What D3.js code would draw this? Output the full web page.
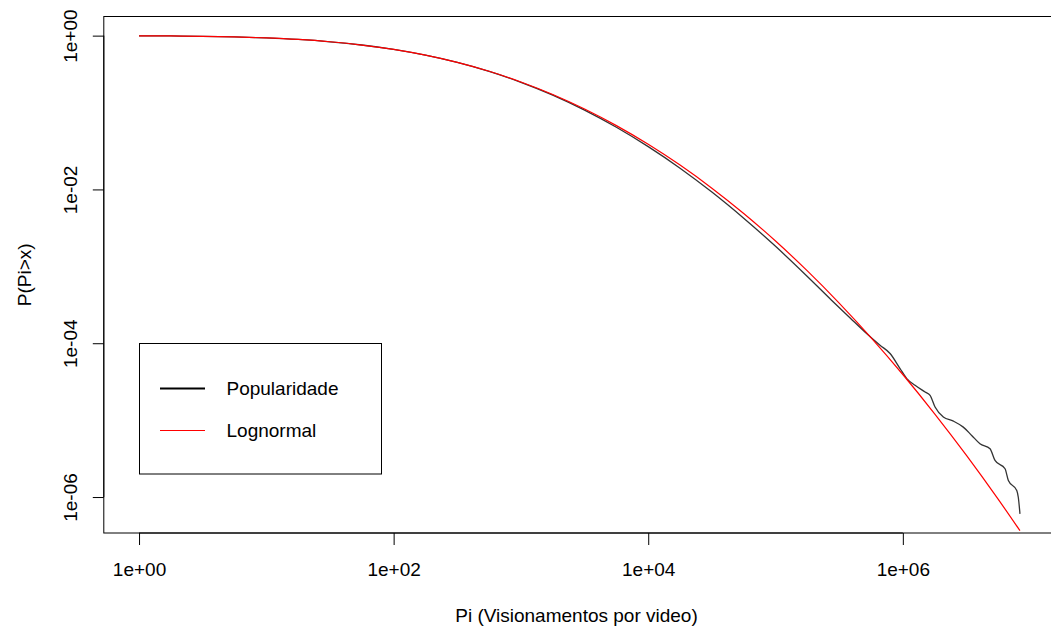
<!DOCTYPE html>
<html>
<head>
<meta charset="utf-8">
<script src="https://cdn.jsdelivr.net/npm/d3@7"></script>
<style>
  html, body { margin: 0; padding: 0; background: #fff; }
  svg { display: block; font-family: "Liberation Sans", Arial, Helvetica, sans-serif; }
</style>
</head>
<body>
<svg id="chart" width="1051" height="632"></svg>
<script>
// Empirical CCDF of views per video (P(Pi > x))
const popViews = [1, 1.778, 3.162, 5.623, 10, 17.78, 31.62, 56.23, 100, 177.8, 316.2, 562.3,
  1000, 1778, 3162, 5623, 1e4, 1.778e4, 3.162e4, 5.623e4, 1e5, 1.778e5, 2.754e5, 3.89e5,
  5.01e5, 6.62e5, 7.94e5, 9.51e5, 1.074e6, 1.247e6, 1.496e6, 1.637e6, 1.791e6, 2.08e6,
  2.495e6, 2.985e6, 3.475e6, 4.036e6, 4.842e6, 5.297e6, 6.353e6, 6.745e6, 7.852e6,
  8.072e6, 8.32e6];
const popProb = [0.9954, 0.9908, 0.9795, 0.9616, 0.9333, 0.8913, 0.8318, 0.7551, 0.6622,
  0.5572, 0.4487, 0.3428, 0.2472, 0.1687, 0.1076, 0.0643, 0.036, 0.01888, 0.00923, 0.00422,
  0.00182, 7.38e-4, 3.63e-4, 2.10e-4, 1.41e-4, 9.42e-5, 7.35e-5, 4.68e-5, 3.47e-5, 2.84e-5,
  2.32e-5, 2.10e-5, 1.48e-5, 1.10e-5, 9.72e-6, 8.11e-6, 6.32e-6, 4.93e-6, 4.25e-6, 2.99e-6,
  2.33e-6, 1.64e-6, 1.22e-6, 9.93e-7, 6.04e-7];

// Fitted lognormal CCDF
const lnViews = [1, 1.778, 3.162, 5.623, 10, 17.78, 31.62, 56.23, 100, 177.8, 316.2, 562.3,
  1000, 1778, 3162, 5623, 1e4, 1.778e4, 3.162e4, 5.623e4, 1e5, 1.778e5, 3.162e5, 5.623e5,
  1e6, 1.778e6, 3.162e6, 5.623e6, 8.32e6];
const lnProb = [0.9953, 0.99, 0.98, 0.9625, 0.9341, 0.8915, 0.8319, 0.7545, 0.6613, 0.5569,
  0.4484, 0.3437, 0.2497, 0.1716, 0.1111, 0.0676, 0.03866, 0.02071, 0.01039, 0.00487,
  0.002133, 8.72e-4, 3.33e-4, 1.184e-4, 3.92e-5, 1.21e-5, 3.48e-6, 9.32e-7, 3.65e-7];

const xTickValues = [1, 1e2, 1e4, 1e6];
const xTickLabels = ["1e+00", "1e+02", "1e+04", "1e+06"];
const yTickValues = [1, 1e-2, 1e-4, 1e-6];
const yTickLabels = ["1e+00", "1e-02", "1e-04", "1e-06"];

const seriesNames = ["Popularidade", "Lognormal"];
const seriesColors = ["#000000", "#ff0000"];
const xTitle = "Pi (Visionamentos por video)";
const yTitle = "P(Pi>x)";

// Plot region (R-style box), axis limits padded 4% in log space
const plot = { left: 103.8, top: 16.5, right: 1055.2, bottom: 533 };
const fontSize = 19;

function padLog(lo, hi, frac) {
  const a = Math.log10(lo), b = Math.log10(hi), d = (b - a) * frac;
  return [Math.pow(10, a - d), Math.pow(10, b + d)];
}

const xLim = padLog(d3.min(popViews), d3.max(popViews), 0.04);
const yLim = padLog(d3.min(popProb), 1, 0.04);

const x = d3.scaleLog().domain(xLim).range([plot.left, plot.right]);
const y = d3.scaleLog().domain(yLim).range([plot.bottom, plot.top]);

const svg = d3.select("#chart");

// Curves
const line = d3.line().x(d => x(d[0])).y(d => y(d[1])).curve(d3.curveMonotoneX);

svg.append("path")
  .datum(popViews.map((v, i) => [v, popProb[i]]))
  .attr("fill", "none")
  .attr("stroke", seriesColors[0])
  .attr("stroke-width", 1.3)
  .attr("stroke-opacity", 0.8)
  .attr("d", line);

svg.append("path")
  .datum(lnViews.map((v, i) => [v, lnProb[i]]))
  .attr("fill", "none")
  .attr("stroke", seriesColors[1])
  .attr("stroke-width", 1.2)
  .attr("d", line);

// Box around plotting region
svg.append("rect")
  .attr("x", plot.left).attr("y", plot.top)
  .attr("width", plot.right - plot.left).attr("height", plot.bottom - plot.top)
  .attr("fill", "none").attr("stroke", "#000").attr("stroke-width", 1);

// X axis
const xAxis = d3.axisBottom(x)
  .tickValues(xTickValues)
  .tickFormat((d, i) => xTickLabels[i])
  .tickSize(12)
  .tickPadding(18);
const gx = svg.append("g").attr("transform", `translate(0,${plot.bottom})`).call(xAxis);
gx.select(".domain").remove();
gx.append("line")
  .attr("x1", x(xTickValues[0])).attr("x2", x(xTickValues[xTickValues.length - 1]))
  .attr("stroke", "#000");
gx.selectAll("text").attr("font-size", fontSize).attr("font-family", null).attr("fill", "#000");
gx.selectAll(".tick line").attr("stroke", "#000");

// Y axis
const yAxis = d3.axisLeft(y)
  .tickValues(yTickValues)
  .tickFormat((d, i) => yTickLabels[i])
  .tickSize(11);
const gy = svg.append("g").attr("transform", `translate(${plot.left},0)`).call(yAxis);
gy.select(".domain").remove();
gy.append("line")
  .attr("y1", y(yTickValues[0])).attr("y2", y(yTickValues[yTickValues.length - 1]))
  .attr("stroke", "#000");
gy.selectAll(".tick line").attr("stroke", "#000");
gy.selectAll(".tick text")
  .attr("x", null).attr("dy", null)
  .attr("text-anchor", "middle")
  .attr("font-size", fontSize).attr("font-family", null).attr("fill", "#000")
  .attr("transform", "translate(-33.3,0) rotate(-90)")
  .attr("dominant-baseline", "central");

// Axis titles
svg.append("text")
  .attr("x", (plot.left + plot.right) / 2 - 3)
  .attr("y", 615)
  .attr("text-anchor", "middle")
  .attr("dominant-baseline", "central")
  .attr("font-size", fontSize)
  .text(xTitle);

svg.append("text")
  .attr("transform", `translate(24,${(plot.top + plot.bottom) / 2}) rotate(-90)`)
  .attr("text-anchor", "middle")
  .attr("dominant-baseline", "central")
  .attr("font-size", fontSize)
  .text(yTitle);

// Legend
const legend = svg.append("g");
legend.append("rect")
  .attr("x", 139.5).attr("y", 343.5).attr("width", 242).attr("height", 130.5)
  .attr("fill", "#fff").attr("stroke", "#000").attr("stroke-width", 1);
const legendY = [388.5, 430.5];
seriesNames.forEach((name, i) => {
  legend.append("line")
    .attr("x1", 160).attr("x2", 205)
    .attr("y1", legendY[i]).attr("y2", legendY[i])
    .attr("stroke", seriesColors[i])
    .attr("stroke-width", i === 0 ? 2 : 1.2);
  legend.append("text")
    .attr("x", 226.5).attr("y", legendY[i])
    .attr("dominant-baseline", "central")
    .attr("font-size", fontSize)
    .text(name);
});
</script>
</body>
</html>
